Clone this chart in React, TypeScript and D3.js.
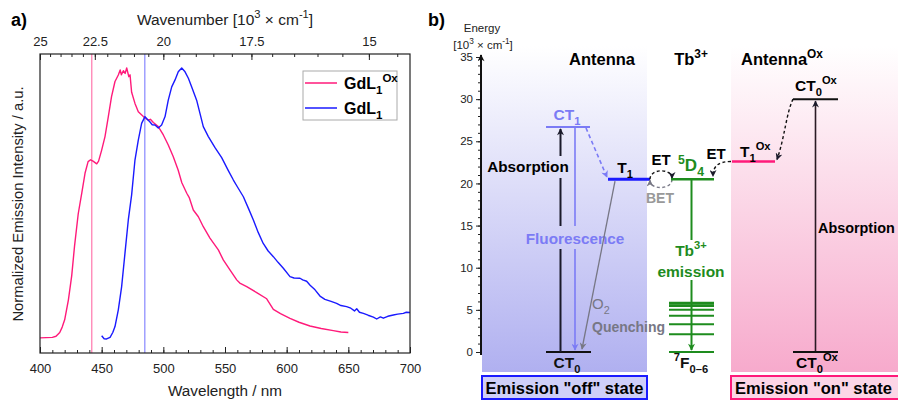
import { useEffect, useRef } from 'react';
import * as d3 from 'd3';

// ---- panel a: emission spectra ----
const wavelengthTicks = [400, 450, 500, 550, 600, 650, 700];
const wavenumberTicks = [25, 22.5, 20, 17.5, 15];

const oxWl = [400, 405, 410, 413, 416, 418, 420, 423, 425.7, 428, 431, 434, 436.5, 439, 441, 443, 446, 447.5, 450, 452.7, 455.4, 458, 460.8, 463.5, 465, 466, 467.6, 469, 470.3, 472, 473, 474.3, 477, 479.7, 483.8, 487.8, 489.5, 491.9, 495.9, 500, 504, 508, 512, 515, 519, 521, 524.3, 528.4, 532.4, 537.8, 544.6, 548.6, 554, 559.5, 562, 567.6, 575.7, 583.8, 589.2, 595, 602.7, 610, 618.9, 628, 637.8, 644, 650];
const oxInt = [0, 0.001, 0.002, 0.006, 0.02, 0.04, 0.067, 0.14, 0.23, 0.34, 0.46, 0.54, 0.61, 0.653, 0.66, 0.655, 0.645, 0.655, 0.696, 0.746, 0.82, 0.894, 0.95, 0.974, 0.993, 0.975, 0.99, 0.98, 1.0, 0.968, 0.975, 0.91, 0.869, 0.838, 0.82, 0.807, 0.81, 0.798, 0.783, 0.752, 0.715, 0.672, 0.622, 0.575, 0.536, 0.52, 0.474, 0.449, 0.412, 0.37, 0.326, 0.289, 0.252, 0.215, 0.203, 0.19, 0.168, 0.145, 0.106, 0.09, 0.072, 0.058, 0.044, 0.035, 0.027, 0.022, 0.02];

const redWl = [450, 452, 454, 456.8, 459, 460.8, 463.5, 466.2, 468.9, 471.6, 474.3, 477, 479.7, 482.4, 485.1, 487, 489.2, 491, 493.2, 495.9, 498.6, 501.4, 504, 506.8, 509.5, 512.1, 514.9, 517.6, 520.3, 523, 527, 529.7, 532.4, 536.5, 541.9, 547.3, 552.7, 556.8, 560, 564.9, 569, 573, 577, 581, 585, 589.2, 593, 597.3, 602.7, 606, 610.8, 613, 616.2, 619, 623, 627, 631, 636, 640.5, 644, 648.6, 652, 655, 656.8, 659, 662.2, 666, 670.3, 673, 676, 678.4, 682, 686.5, 690, 694.6, 697, 700];
const redInt = [0.008, -0.003, -0.004, 0.002, 0.02, 0.042, 0.104, 0.19, 0.314, 0.437, 0.53, 0.659, 0.733, 0.795, 0.82, 0.81, 0.8, 0.79, 0.789, 0.778, 0.789, 0.82, 0.881, 0.93, 0.956, 0.986, 1.0, 0.986, 0.962, 0.93, 0.881, 0.832, 0.783, 0.746, 0.705, 0.668, 0.62, 0.585, 0.56, 0.523, 0.48, 0.437, 0.39, 0.35, 0.322, 0.301, 0.28, 0.258, 0.227, 0.222, 0.221, 0.215, 0.21, 0.195, 0.178, 0.155, 0.143, 0.135, 0.128, 0.12, 0.116, 0.11, 0.1, 0.108, 0.095, 0.091, 0.084, 0.077, 0.07, 0.078, 0.073, 0.08, 0.085, 0.088, 0.091, 0.095, 0.094];

const excitationWl = [442, 485];

// ---- panel b: energy levels (10^3 cm-1) ----
const energyTicks = [0, 5, 10, 15, 20, 25, 30, 35];
const groundE = 0;
const ct1E = 26.7;
const t1E = 20.5;
const d4E = 20.5;
const t1OxE = 22.6;
const ct0OxE = 30;
const f7E = [0, 2.1, 3.3, 4.3, 5.0, 5.5, 5.8];

const PINK = '#ff1a7a';
const BLUE = '#1a1aff';
const LBLUE = '#7b7bf5';
const GREEN = '#1e8c1e';
const GRAY = '#777785';
const FONT = '"Liberation Sans", Arial, sans-serif';

type Part = string | [string, 'sub' | 'sup'];

const rich = (g: any, x: number, y: number, parts: Part[], o: any) => {
  const size = o.size ?? 14;
  const t = g.append('text').attr('x', x).attr('y', y)
    .attr('text-anchor', o.anchor ?? 'middle')
    .attr('font-size', size)
    .attr('font-weight', o.bold ? 700 : 400)
    .attr('fill', o.color ?? '#000');
  let prev = 0;
  parts.forEach(p => {
    const [txt, kind] = typeof p === 'string' ? [p, ''] : p;
    const shift = kind === 'sup' ? -size * 0.42 : kind === 'sub' ? size * 0.3 : 0;
    t.append('tspan').attr('dy', shift - prev).attr('font-size', kind ? size * 0.72 : size).text(txt);
    prev = shift;
  });
  return t;
};

const App = () => {
  const ref = useRef<SVGSVGElement>(null);

  useEffect(() => {
    document.body.style.margin = '0';
    const svg = d3.select(ref.current);
    svg.selectAll('*').remove();
    svg.style('font-family', FONT);

    const defs = svg.append('defs');
    const mk = (id: string, color: string, w = 9, h = 7) => {
      defs.append('marker').attr('id', id)
        .attr('viewBox', '0 0 10 10').attr('refX', 9).attr('refY', 5)
        .attr('markerUnits', 'userSpaceOnUse')
        .attr('markerWidth', w).attr('markerHeight', h)
        .attr('orient', 'auto')
        .append('path').attr('d', 'M0,0 L10,5 L0,10 L3,5 z').attr('fill', color);
    };
    mk('aBlack', '#1a1a2a');
    mk('aLB', LBLUE);
    mk('aGray', GRAY);
    mk('aGreen', GREEN);
    mk('aAxis', '#111', 10, 7);

    const grad = (id: string, c: string) => {
      const gr = defs.append('linearGradient').attr('id', id)
        .attr('x1', 0).attr('y1', 0).attr('x2', 0).attr('y2', 1);
      gr.append('stop').attr('offset', 0).attr('stop-color', '#ffffff');
      gr.append('stop').attr('offset', 1).attr('stop-color', c);
    };
    grad('gBlue', '#b0b0f0');
    grad('gPink', '#f7aacc');

    // ================= panel a =================
    const x = d3.scaleLinear().domain([400, 700]).range([40, 410]);
    const y = d3.scaleLinear().domain([-0.056, 1.052]).range([353, 54]);
    const ga = svg.append('g');

    defs.append('clipPath').attr('id', 'clipA')
      .append('rect').attr('x', 40).attr('y', 54).attr('width', 370).attr('height', 299);

    // excitation lines
    ga.append('line').attr('x1', x(excitationWl[0])).attr('x2', x(excitationWl[0]))
      .attr('y1', 54).attr('y2', 353).attr('stroke', '#ff6aa5').attr('stroke-width', 1.1);
    ga.append('line').attr('x1', x(excitationWl[1])).attr('x2', x(excitationWl[1]))
      .attr('y1', 54).attr('y2', 353).attr('stroke', '#7d7dff').attr('stroke-width', 1.1);

    const line = d3.line<[number, number]>().x(d => x(d[0])).y(d => y(d[1]));
    const cg = ga.append('g').attr('clip-path', 'url(#clipA)');
    cg.append('path').attr('d', line(oxWl.map((w, i) => [w, oxInt[i]])))
      .attr('fill', 'none').attr('stroke', PINK).attr('stroke-width', 1.4).attr('stroke-linejoin', 'round');
    cg.append('path').attr('d', line(redWl.map((w, i) => [w, redInt[i]])))
      .attr('fill', 'none').attr('stroke', BLUE).attr('stroke-width', 1.4).attr('stroke-linejoin', 'round');

    // axes
    const styleAxis = (g: any, fs = 13) => {
      g.select('.domain').remove();
      g.selectAll('line').attr('stroke', '#222');
      g.selectAll('text').attr('font-size', fs).attr('fill', '#222').attr('font-family', FONT);
    };
    const bMinor = ga.append('g').attr('transform', 'translate(0,353)')
      .call(d3.axisBottom(x).tickValues(d3.range(400, 701, 10)).tickSize(-3).tickFormat(() => ''));
    styleAxis(bMinor);
    const bMajor = ga.append('g').attr('transform', 'translate(0,353)')
      .call(d3.axisBottom(x).tickValues(wavelengthTicks).tickSizeInner(-6).tickSizeOuter(0).tickPadding(11));
    styleAxis(bMajor);

    const minorK = d3.range(14.5, 25.01, 0.5);
    const tMinor = ga.append('g').attr('transform', 'translate(0,54)')
      .call(d3.axisTop(x).tickValues(minorK.map(k => 1e4 / k)).tickSize(-3).tickFormat(() => ''));
    styleAxis(tMinor);
    const tMajor = ga.append('g').attr('transform', 'translate(0,54)')
      .call(d3.axisTop(x).tickValues(wavenumberTicks.map(k => 1e4 / k))
        .tickSizeInner(-6).tickSizeOuter(0).tickPadding(8)
        .tickFormat(d => String(Math.round(1e5 / (d as number)) / 10)));
    styleAxis(tMajor);

    ga.append('rect').attr('x', 40).attr('y', 54).attr('width', 370).attr('height', 299)
      .attr('fill', 'none').attr('stroke', '#222').attr('stroke-width', 1.2);

    // axis titles
    ga.append('text').attr('x', 225).attr('y', 396).attr('text-anchor', 'middle')
      .attr('font-size', 15.3).attr('fill', '#222').text('Wavelength / nm');
    rich(ga, 225, 25, ['Wavenumber [10', ['3', 'sup'], ' × cm', ['-1', 'sup'], ']'], { size: 15.5, color: '#222' });
    ga.append('text').attr('transform', 'translate(23,204) rotate(-90)').attr('text-anchor', 'middle')
      .attr('font-size', 14.8).attr('fill', '#222').text('Normalized Emission Intensity / a.u.');
    ga.append('text').attr('x', 11).attr('y', 26).attr('font-size', 18).attr('font-weight', 700).text('a)');

    // legend
    ga.append('rect').attr('x', 303).attr('y', 71).attr('width', 94).attr('height', 49)
      .attr('fill', '#fff').attr('stroke', '#aaa').attr('stroke-width', 1);
    ga.append('line').attr('x1', 305).attr('x2', 337).attr('y1', 83).attr('y2', 83).attr('stroke', PINK).attr('stroke-width', 1.5);
    ga.append('line').attr('x1', 305).attr('x2', 337).attr('y1', 108).attr('y2', 108).attr('stroke', BLUE).attr('stroke-width', 1.5);
    rich(ga, 344, 89, ['GdL', ['1', 'sub'], ['Ox', 'sup']], { size: 16, bold: true, anchor: 'start' });
    rich(ga, 344, 114, ['GdL', ['1', 'sub']], { size: 16, bold: true, anchor: 'start' });

    // ================= panel b =================
    const e = d3.scaleLinear().domain([0, 35]).range([352, 57]);
    const gb = svg.append('g');

    gb.append('rect').attr('x', 482).attr('y', 46).attr('width', 165).attr('height', 326).attr('fill', 'url(#gBlue)');
    gb.append('rect').attr('x', 731).attr('y', 46).attr('width', 167).attr('height', 326).attr('fill', 'url(#gPink)');

    // energy axis
    const eMinor = gb.append('g').attr('transform', 'translate(481,0)')
      .call(d3.axisLeft(e).tickValues(d3.range(0, 36, 1)).tickSize(3).tickFormat(() => ''));
    styleAxis(eMinor);
    const eMajor = gb.append('g').attr('transform', 'translate(481,0)')
      .call(d3.axisLeft(e).tickValues(energyTicks).tickSize(5).tickPadding(3));
    styleAxis(eMajor, 11.5);
    gb.append('line').attr('x1', 481).attr('x2', 481).attr('y1', e(0) + 3).attr('y2', e(35) - 2)
      .attr('stroke', '#111').attr('stroke-width', 2).attr('marker-end', 'url(#aAxis)');
    gb.append('text').attr('x', 482).attr('y', 32).attr('text-anchor', 'middle').attr('font-size', 11.5).attr('fill', '#222').text('Energy');
    rich(gb, 483, 49, ['[10', ['3', 'sup'], ' × cm', ['-1', 'sup'], ']'], { size: 11.5, color: '#222' });
    gb.append('text').attr('x', 428).attr('y', 26).attr('font-size', 18).attr('font-weight', 700).text('b)');

    // headers
    gb.append('text').attr('x', 602).attr('y', 65).attr('text-anchor', 'middle').attr('font-size', 16.5).attr('font-weight', 700).text('Antenna');
    rich(gb, 691, 65, ['Tb', ['3+', 'sup']], { size: 16.5, bold: true });
    rich(gb, 782, 65, ['Antenna', ['Ox', 'sup']], { size: 16.5, bold: true });

    const hl = (x1: number, x2: number, yy: number, c: string, w = 2) =>
      gb.append('line').attr('x1', x1).attr('x2', x2).attr('y1', yy).attr('y2', yy).attr('stroke', c).attr('stroke-width', w);
    const vl = (xx: number, y1: number, y2: number, c: string, w: number, m?: string) => {
      const l = gb.append('line').attr('x1', xx).attr('x2', xx).attr('y1', y1).attr('y2', y2).attr('stroke', c).attr('stroke-width', w);
      if (m) l.attr('marker-end', `url(#${m})`);
      return l;
    };

    // Antenna
    hl(546, 590, e(ct1E), LBLUE, 2);
    rich(gb, 567, 120, ['CT', ['1', 'sub']], { size: 15.5, bold: true, color: LBLUE });
    hl(546, 591, e(groundE), '#111', 2);
    rich(gb, 567, 368, ['CT', ['0', 'sub']], { size: 15.5, bold: true, color: '#111' });

    vl(560.5, e(groundE), 249, '#1a1a2a', 2);
    vl(560.5, 226, 178, '#1a1a2a', 2);
    vl(560.5, 156, e(ct1E) + 2, '#1a1a2a', 2, 'aBlack');
    gb.append('text').attr('x', 528).attr('y', 172).attr('text-anchor', 'middle').attr('font-size', 15.3).attr('font-weight', 700).text('Absorption');

    vl(575, e(ct1E), 226, LBLUE, 1.6);
    vl(575, 249, e(groundE) - 2, LBLUE, 1.6, 'aLB');
    gb.append('text').attr('x', 575).attr('y', 244).attr('text-anchor', 'middle').attr('font-size', 15.3).attr('font-weight', 700).attr('fill', LBLUE).text('Fluorescence');

    gb.append('line').attr('x1', 586).attr('y1', e(ct1E) + 1).attr('x2', 607).attr('y2', e(t1E) - 2)
      .attr('stroke', LBLUE).attr('stroke-width', 1.6).attr('stroke-dasharray', '4,3').attr('marker-end', 'url(#aLB)');

    hl(608, 650, e(t1E), BLUE, 3);
    rich(gb, 625, 173, ['T', ['1', 'sub']], { size: 15.5, bold: true });

    gb.append('line').attr('x1', 615).attr('y1', e(t1E) + 2).attr('x2', 582).attr('y2', e(groundE) - 3)
      .attr('stroke', GRAY).attr('stroke-width', 1.3).attr('marker-end', 'url(#aGray)');
    rich(gb, 592, 309, ['O', ['2', 'sub']], { size: 15, color: GRAY, anchor: 'start' });
    gb.append('text').attr('x', 592).attr('y', 332).attr('font-size', 14).attr('font-weight', 700).attr('fill', GRAY).text('Quenching');

    // ET / BET loop
    const cy = e(t1E);
    gb.append('path').attr('d', `M650,${cy} C650,${cy - 11} 672,${cy - 11} 672,${cy - 1}`)
      .attr('fill', 'none').attr('stroke', '#111').attr('stroke-width', 1.4).attr('stroke-dasharray', '3,2.5').attr('marker-end', 'url(#aBlack)');
    gb.append('path').attr('d', `M672,${cy} C672,${cy + 11} 650,${cy + 11} 650,${cy + 1}`)
      .attr('fill', 'none').attr('stroke', GRAY).attr('stroke-width', 1.4).attr('stroke-dasharray', '3,2.5').attr('marker-end', 'url(#aGray)');
    gb.append('text').attr('x', 661).attr('y', 165).attr('text-anchor', 'middle').attr('font-size', 15).attr('font-weight', 700).text('ET');
    gb.append('text').attr('x', 660).attr('y', 203).attr('text-anchor', 'middle').attr('font-size', 14).attr('font-weight', 700).attr('fill', '#999').text('BET');

    // Tb3+
    hl(671, 714, e(d4E), GREEN, 2.5);
    rich(gb, 691, 171, [['5', 'sup'], 'D', ['4', 'sub']], { size: 17, bold: true, color: GREEN });
    vl(691.5, e(d4E), 240, GREEN, 2);
    vl(691.5, 280, e(f7E[0]) - 2, GREEN, 2, 'aGreen');
    rich(gb, 691, 256, ['Tb', ['3+', 'sup']], { size: 15.5, bold: true, color: GREEN });
    gb.append('text').attr('x', 691).attr('y', 277).attr('text-anchor', 'middle').attr('font-size', 15.5).attr('font-weight', 700).attr('fill', GREEN).text('emission');
    f7E.forEach((v, i) => hl(669, 714, e(v), GREEN, i >= 5 ? 2.6 : 2));
    rich(gb, 691, 368, [['7', 'sup'], 'F', ['0–6', 'sub']], { size: 15.5, bold: true, color: '#111' });

    // Antenna Ox
    hl(732, 775, e(t1OxE), PINK, 2.5);
    rich(gb, 740, 157, ['T', ['1', 'sub'], ['Ox', 'sup']], { size: 15.5, bold: true, anchor: 'start' });
    gb.append('path').attr('d', `M731,${e(t1OxE)} C719,${e(t1OxE)} 713,${e(t1OxE) + 4} 713,${e(d4E) - 3}`)
      .attr('fill', 'none').attr('stroke', '#111').attr('stroke-width', 1.4).attr('stroke-dasharray', '3,2.5').attr('marker-end', 'url(#aBlack)');
    gb.append('text').attr('x', 716).attr('y', 159).attr('text-anchor', 'middle').attr('font-size', 15).attr('font-weight', 700).text('ET');

    hl(793, 838, e(ct0OxE), '#111', 2);
    rich(gb, 795, 91, ['CT', ['0', 'sub'], ['Ox', 'sup']], { size: 15.5, bold: true, anchor: 'start' });
    gb.append('path').attr('d', `M793,${e(ct0OxE)} C786,${e(ct0OxE) + 15} 785,${e(t1OxE) - 25} 777,${e(t1OxE) - 2}`)
      .attr('fill', 'none').attr('stroke', '#111').attr('stroke-width', 1.4).attr('stroke-dasharray', '3,2.5').attr('marker-end', 'url(#aBlack)');

    vl(815.5, e(groundE), e(ct0OxE) + 2, '#2a1a24', 1.6, 'aBlack');
    gb.append('text').attr('x', 818).attr('y', 233).attr('font-size', 14.4).attr('font-weight', 700).text('Absorption');
    hl(793, 838, e(groundE), '#111', 2);
    rich(gb, 796, 368, ['CT', ['0', 'sub'], ['Ox', 'sup']], { size: 15.5, bold: true, anchor: 'start' });

    // state boxes
    gb.append('rect').attr('x', 482).attr('y', 376).attr('width', 165).attr('height', 23)
      .attr('fill', '#cfcff8').attr('stroke', BLUE).attr('stroke-width', 2);
    gb.append('text').attr('x', 564.5).attr('y', 393.5).attr('text-anchor', 'middle').attr('font-size', 16.5).attr('font-weight', 700).text('Emission "off" state');
    gb.append('rect').attr('x', 731).attr('y', 376).attr('width', 170).attr('height', 23)
      .attr('fill', '#fcd5e6').attr('stroke', PINK).attr('stroke-width', 2);
    gb.append('text').attr('x', 735).attr('y', 393.5).attr('font-size', 16.5).attr('font-weight', 700).text('Emission "on" state');
  }, []);

  return <svg ref={ref} width={898} height={400} style={{ display: 'block', background: '#fff' }} />;
};

export default App;
